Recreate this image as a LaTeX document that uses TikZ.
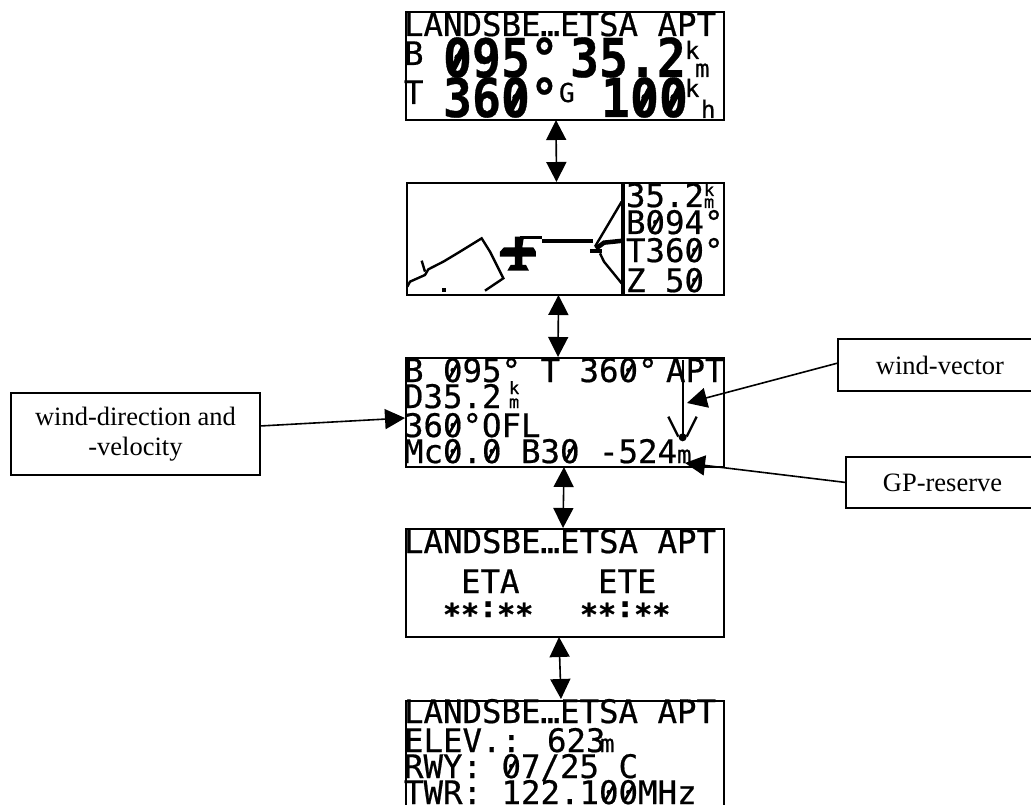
\documentclass[tikz,border=0pt]{standalone}
\usepackage{fontspec}
\usepackage{graphicx}
\setmainfont{Liberation Serif}
\newfontfamily\lcdfont[FakeBold=0.6]{DejaVu Sans Mono}
\usetikzlibrary{arrows.meta}
\newcommand\widebig[1]{\scalebox{0.9}[1]{#1}}
\newcommand\zs{\makebox[0pt][l]{\hspace{.16em}\raisebox{.10em}{\rotatebox{60}{\rule{.54em}{.08em}}}}0}
\newcommand\zb{\makebox[0pt][l]{\hspace{.15em}\raisebox{.12em}{\rotatebox{60}{\rule{.52em}{.13em}}}}0}
\tikzset{
  lcdbox/.style={draw,line width=2.7pt,rectangle,inner sep=0pt,outer sep=0pt},
  lcdt/.style={anchor=base west,inner sep=0pt,outer sep=0pt,font=\fontsize{32.4}{32}\lcdfont},
  lcdsmall/.style={anchor=base west,inner sep=0pt,outer sep=0pt,font=\fontsize{24}{24}\lcdfont},
  lcdtiny/.style={anchor=base west,inner sep=0pt,outer sep=0pt,font=\fontsize{17}{17}\lcdfont},
  lcdmid/.style={anchor=base west,inner sep=0pt,outer sep=0pt,font=\fontsize{26}{26}\lcdfont},
  lcdbig/.style={anchor=base west,inner sep=0pt,outer sep=0pt,font=\fontsize{53.5}{53}\lcdfont\bfseries},
  callout/.style={draw,line width=1.2pt,rectangle,inner sep=0pt,outer sep=0pt,font=\fontsize{26.5}{30}\selectfont,align=center},
  nav/.style={line width=1.6pt,{Triangle[length=20pt,width=20pt]}-{Triangle[length=20pt,width=20pt]}},
  pointer/.style={line width=1.6pt,-{Triangle[length=20pt,width=20pt]}},
  pix/.style={line width=2.4pt,line cap=butt},
  heavy/.style={line width=4pt}
}
\begin{document}
\begin{tikzpicture}[x=1pt,y=-1pt]
\useasboundingbox (0,0) rectangle (1031,805);
\clip (0,0) rectangle (1031,805);
% boxes
\node[lcdbox,minimum width=318pt,minimum height=108pt] (b1) at (565,66) {};
\node[lcdbox,minimum width=317pt,minimum height=112pt] (b2) at (565.5,239) {};
\node[lcdbox,minimum width=318pt,minimum height=109pt] (b3) at (565,412.5) {};
\node[lcdbox,minimum width=318pt,minimum height=108pt] (b4) at (565,583) {};
\node[lcdbox,minimum width=318pt,minimum height=116pt] (b5) at (565,759) {};
% box 1
\node[lcdt] (a1) at (404,36) {LANDSBE…ETSA APT};
\node[lcdt] (a2) at (404,65) {B};
\node[lcdbig] (a3) at (443,77) {\widebig{\zb95°}};
\node[lcdbig] (a4) at (570,77) {\widebig{35.2}};
\node[lcdsmall] (a5) at (685,59) {k};
\node[lcdsmall] (a6) at (695,77) {m};
\node[lcdt] (a7) at (404,104) {T};
\node[lcdmid] (a8) at (559,102) {G};
\node[lcdbig] (a9) at (443,117) {\widebig{36\zb°}};
\node[lcdbig] (a10) at (601,117) {\widebig{1\zb\zb}};
\node[lcdsmall] (a11) at (685,97) {k};
\node[lcdsmall] (a12) at (701,118) {h};
% box 2
\draw[line width=3.4pt] (b2.north west) ++(216,0) coordinate (dt) (b2.south west) ++(216,0) coordinate (db) (dt) -- (db);
\node[lcdt] (c1) at (626,207) {35.2};
\node[lcdtiny] (c2) at (704,196) {k};
\node[lcdtiny] (c3) at (704,208) {m};
\node[lcdt] (c4) at (626,234) {B\zs94°};
\node[lcdt] (c5) at (626,262) {T36\zs°};
\node[lcdt] (c6) at (626,292) {Z 5\zs};
\begin{scope}[shift={(400,170)},x=0.3333pt,y=-0.3333pt]
\draw[pix] (22,350) -- (30,335) -- (75,315) -- (85,298) -- (130,275) -- (180,245) -- (245,205) -- (270,245) -- (310,325) -- (255,362);
\draw[pix] (65,272) -- (75,305);
\fill (126,353) rectangle (138,365);
\fill (345,200) -- (372,200) -- (367,232) -- (400,232) -- (408,245) -- (408,260) -- (367,260) -- (367,285) -- (378,285) -- (387,302) -- (322,302) -- (332,285) -- (345,285) -- (345,260) -- (300,260) -- (300,245) -- (312,232) -- (345,232) -- cycle;
\draw[line width=2.8pt] (360,203) -- (425,203);
\draw[heavy] (425,212) -- (580,212);
\draw[line width=4pt] (570,243) -- (605,243);
\draw[line width=4.5pt] (588,236) -- (612,218) -- (670,212);
\draw[pix] (585,230) -- (665,95);
\draw[pix] (600,250) -- (612,275) -- (665,340);
\end{scope}
% box 3
\node[lcdt] (d1) at (404,382) {B \zs95° T 36\zs°};
\node[lcdt] (d2) at (666,382) {APT};
\node[lcdt] (d3) at (404,408) {D35.2};
\node[lcdtiny] (d4) at (509,394) {k};
\node[lcdtiny] (d5) at (509,408) {m};
\node[lcdt] (d6) at (404,437) {36\zs°OFL};
\node[lcdt] (d7) at (404,463) {Mc\zs.\zs{} B3\zs{} -524};
\node[lcdsmall] (d8) at (677,463) {m};
\begin{scope}[shift={(400,350)},x=0.3333pt,y=-0.3333pt]
\draw[line width=1.8pt] (848,30) -- (848,265);
\draw[pix] (805,200) -- (835,260);
\draw[pix] (890,200) -- (860,260);
\fill (848,262) circle[radius=12];
\end{scope}
% box 4
\node[lcdt] (e1) at (404,553) {LANDSBE…ETSA APT};
\node[lcdt] (e2) at (461,593) {ETA};
\node[lcdt] (e3) at (598,593) {ETE};
\node[lcdt,font=\fontsize{30}{30}\lcdfont\bfseries] (e4) at (443,617) {\raisebox{-8pt}{**}:\raisebox{-8pt}{**}};
\node[lcdt,font=\fontsize{30}{30}\lcdfont\bfseries] (e5) at (580,617) {\raisebox{-8pt}{**}:\raisebox{-8pt}{**}};
% box 5
\node[lcdt] (f1) at (404,723) {LANDSBE…ETSA APT};
\node[lcdt] (f2) at (404,752) {ELEV.: 623};
\node[lcdsmall] (f3) at (600,752) {m};
\node[lcdt] (f4) at (404,778) {RWY:  \zs7/25 C};
\node[lcdt] (f5) at (404,804) {TWR: 122.1\zs\zs MHz};
% navigation arrows
\draw[nav] ([xshift=-9pt]b1.south) -- ([xshift=-9pt,yshift=1pt]b2.north);
\draw[nav] ([xshift=-7pt]b2.south) -- ([xshift=-7pt,yshift=1pt]b3.north);
\draw[nav] ([xshift=-1pt]b3.south) -- ([xshift=-2pt,yshift=1pt]b4.north);
\draw[nav] ([xshift=-6pt]b4.south) -- ([xshift=-4pt,yshift=2pt]b5.north);
% callouts
\node[callout,minimum width=249pt,minimum height=82pt] (wd) at (135.5,434) {wind-direction and\\-velocity};
\node[callout,minimum width=204pt,minimum height=52pt] (wv) at (940,365) {wind-vector};
\node[callout,minimum width=193pt,minimum height=51pt] (gp) at (942.5,482.5) {GP-reserve};
\coordinate (wdtip) at (405,418);
\coordinate (wvtip) at (687,403);
\coordinate (gptip) at (685,463);
\draw[pointer] ([yshift=8pt]wd.east) -- (wdtip);
\draw[pointer] ([yshift=2pt]wv.west) -- (wvtip);
\draw[pointer] (gp.west) -- (gptip);
\end{tikzpicture}
\end{document}
